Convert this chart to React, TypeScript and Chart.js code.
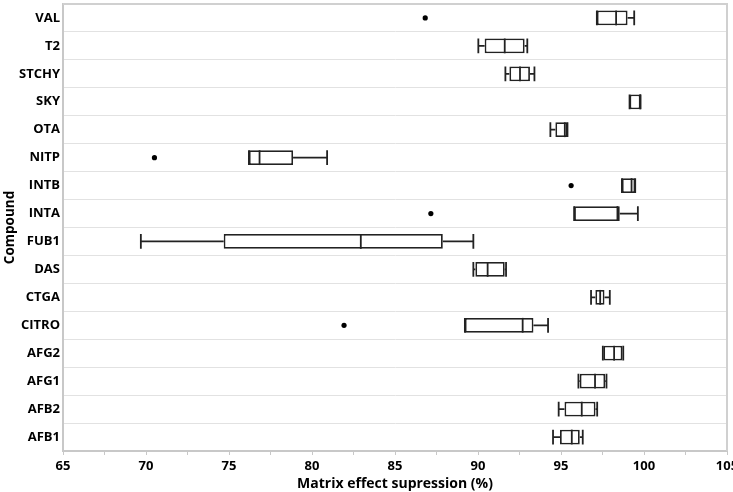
import React, { useEffect, useRef } from "react";
import { Chart, registerables } from "chart.js";

Chart.register(...registerables);

const categories = ["VAL", "T2", "STCHY", "SKY", "OTA", "NITP", "INTB", "INTA", "FUB1", "DAS", "CTGA", "CITRO", "AFG2", "AFG1", "AFB2", "AFB1"];
const whiskerLow = [97.16, 90.02, 91.65, 99.13, 94.36, 76.2, 98.67, 95.79, 69.69, 89.72, 96.81, 89.21, 97.52, 96.05, 94.86, 94.52];
const q1 = [97.16, 90.4, 91.89, 99.13, 94.66, 76.2, 98.67, 95.79, 74.68, 89.84, 97.07, 89.21, 97.55, 96.13, 95.21, 94.94];
const median = [98.32, 91.61, 92.53, 99.77, 95.23, 76.84, 99.25, 98.4, 82.94, 90.58, 97.36, 92.69, 98.2, 97.05, 96.25, 95.65];
const q3 = [99.01, 92.81, 93.13, 99.79, 95.39, 78.86, 99.47, 98.54, 87.88, 91.61, 97.62, 93.34, 98.7, 97.66, 97.08, 96.13];
const whiskerHigh = [99.41, 92.97, 93.4, 99.79, 95.39, 80.91, 99.47, 99.63, 89.72, 91.69, 97.94, 94.22, 98.75, 97.74, 97.18, 96.31];
const outlierCategories = ["VAL", "NITP", "INTB", "INTA", "CITRO"];
const outlierValues = [86.82, 70.51, 95.61, 87.16, 81.93];

const xTitle = "Matrix effect supression (%)";
const yTitle = "Compound";
const FONT = "'Open Sans', 'Noto Sans', sans-serif";
const INK = "#222";

const boxPlugin = {
  id: "boxParts",
  beforeDatasetsDraw(chart: any) {
    const meta = chart.getDatasetMeta(0);
    const xs = chart.scales.x;
    const ctx = chart.ctx;
    ctx.save();
    ctx.strokeStyle = INK;
    ctx.lineWidth = 1.8;
    meta.data.forEach((bar: any, i: number) => {
      const y = bar.y;
      const h = bar.height;
      const xl = xs.getPixelForValue(whiskerLow[i]);
      const xq1 = xs.getPixelForValue(q1[i]);
      const xq3 = xs.getPixelForValue(q3[i]);
      const xh = xs.getPixelForValue(whiskerHigh[i]);
      ctx.beginPath();
      ctx.moveTo(xl, y);
      ctx.lineTo(xq1, y);
      ctx.moveTo(xq3, y);
      ctx.lineTo(xh, y);
      ctx.moveTo(xl, y - h / 2);
      ctx.lineTo(xl, y + h / 2);
      ctx.moveTo(xh, y - h / 2);
      ctx.lineTo(xh, y + h / 2);
      ctx.stroke();
    });
    ctx.restore();
  },
  afterDatasetsDraw(chart: any) {
    const meta = chart.getDatasetMeta(0);
    const xs = chart.scales.x;
    const ctx = chart.ctx;
    ctx.save();
    ctx.strokeStyle = INK;
    ctx.lineWidth = 1.8;
    meta.data.forEach((bar: any, i: number) => {
      const y = bar.y;
      const h = bar.height;
      const xm = xs.getPixelForValue(median[i]);
      ctx.beginPath();
      ctx.moveTo(xm, y - h / 2);
      ctx.lineTo(xm, y + h / 2);
      ctx.stroke();
    });
    const a = chart.chartArea;
    ctx.strokeStyle = "#d0d0d0";
    ctx.lineWidth = 2;
    ctx.beginPath();
    ctx.moveTo(a.left, a.top);
    ctx.lineTo(a.right, a.top);
    ctx.lineTo(a.right, a.bottom);
    ctx.stroke();
    ctx.restore();
  },
};

export default function App() {
  const ref = useRef<HTMLCanvasElement>(null);
  useEffect(() => {
    if (!ref.current) return;
    const chart = new Chart(ref.current, {
      type: "bar",
      data: {
        labels: categories,
        datasets: [
          {
            type: "bar",
            data: categories.map((_, i) => [q1[i], q3[i]]) as any,
            backgroundColor: "#ffffff",
            borderColor: INK,
            borderWidth: 1.8,
            borderSkipped: false,
            barPercentage: 0.53,
            categoryPercentage: 1,
          },
          {
            type: "scatter",
            data: outlierCategories.map((c, i) => ({ x: outlierValues[i], y: c })) as any,
            backgroundColor: "#000",
            borderColor: "#000",
            pointRadius: 2.6,
            borderWidth: 0,
          },
        ],
      },
      options: {
        indexAxis: "y",
        responsive: false,
        animation: false,
        maintainAspectRatio: false,
        layout: { padding: { top: 2, right: 6, left: 0, bottom: 0 } },
        plugins: { legend: { display: false }, tooltip: { enabled: false } },
        scales: {
          x: {
            type: "linear",
            min: 65,
            max: 105,
            afterFit: (s: any) => {
              s.height = 41;
              s.paddingLeft = 0;
              s.paddingRight = 0;
            },
            ticks: {
              stepSize: 2.5,
              autoSkip: false,
              maxRotation: 0,
              padding: 3,
              color: "#000",
              font: { family: FONT, weight: "bold", size: 13 },
              callback: (v: any) => (Number(v) % 5 === 0 ? String(v) : ""),
            },
            grid: { drawOnChartArea: false, drawTicks: true, tickLength: 4, color: "#c8c8c8" },
            border: { color: "#c8c8c8", width: 2 },
            title: {
              display: true,
              text: xTitle,
              color: "#000",
              font: { family: FONT, weight: "bold", size: 14 },
              padding: { top: 0, bottom: 0 },
            },
          },
          y: {
            type: "category",
            afterFit: (s: any) => {
              s.width = 63;
              s.paddingTop = 0;
              s.paddingBottom = 0;
            },
            ticks: {
              color: "#000",
              padding: 3,
              font: { family: FONT, weight: "bold", size: 13 },
            },
            grid: { color: "#e2e2e2", drawTicks: false },
            border: { color: "#c8c8c8", width: 2 },
            title: {
              display: true,
              text: yTitle,
              color: "#000",
              font: { family: FONT, weight: "bold", size: 13.5 },
              padding: { top: 2, bottom: 0 },
            },
          },
        },
      },
      plugins: [boxPlugin],
    } as any);
    return () => chart.destroy();
  }, []);
  return (
    <div style={{ position: "fixed", left: 0, top: 0, width: 733, height: 492, background: "#fff" }}>
      <canvas ref={ref} width={733} height={492} style={{ width: 733, height: 492, display: "block" }} />
    </div>
  );
}
